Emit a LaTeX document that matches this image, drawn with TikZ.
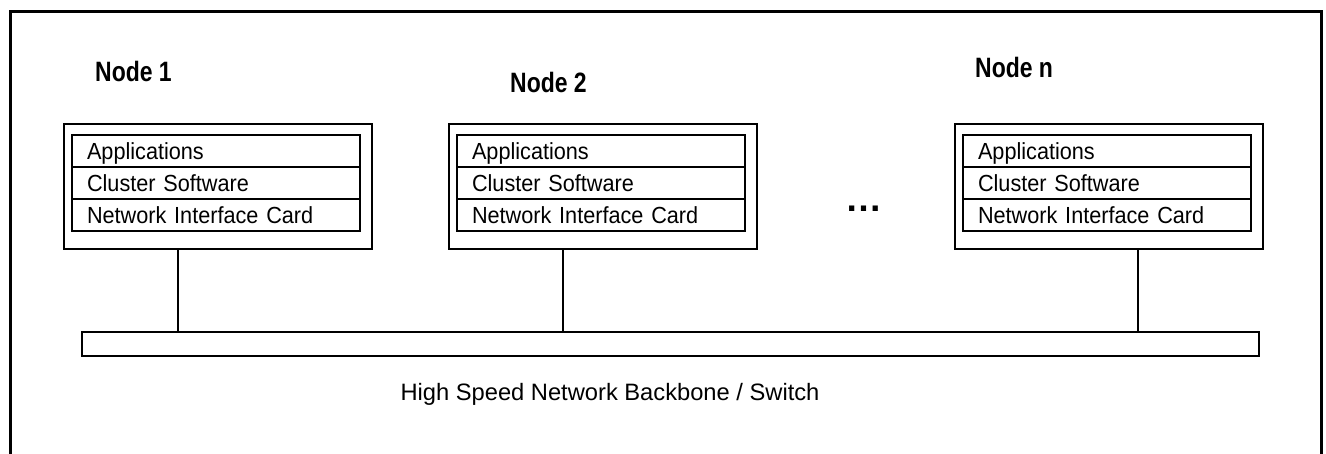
\documentclass[tikz,border=0pt]{standalone}
\usepackage{fontspec}
\setmainfont{Liberation Sans}
\newfontfamily\cellfont[FakeStretch=0.93]{Liberation Sans}
\newfontfamily\labelfont[FakeStretch=0.82]{Liberation Sans}
\begin{document}
\begin{tikzpicture}[x=1pt,y=-1pt,
  frame/.style={line width=3pt},
  hostbox/.style={draw, line width=2pt, minimum width=308pt, minimum height=125pt, inner sep=0pt},
  layer/.style={draw, line width=1.8pt, minimum height=32pt, text width=258pt,
    inner xsep=15pt, inner ysep=0pt, align=left, text height=16.7pt, text depth=0pt,
    font=\cellfont\fontsize{23.3}{26}\selectfont},
  hostlabel/.style={anchor=base west, inner sep=0pt,
    font=\labelfont\bfseries\fontsize{28}{30}\selectfont},
  link/.style={line width=1.7pt},
  busbox/.style={draw, line width=1.7pt, minimum width=1177pt, minimum height=24pt, inner sep=0pt}
]
\useasboundingbox (0,0) rectangle (1326,453);
\fill[white] (0,0) rectangle (1326,453);

% enclosing frame (open at the bottom)
\draw[frame] (10.5,455) -- (10.5,11.5) -- (1321.5,11.5) -- (1321.5,455);

% backbone
\node[busbox] (bus) at (670.5,344) {};
\node[anchor=base, inner sep=0pt, font=\fontsize{23.7}{26}\selectfont] (buslabel) at (610,400)
  {High Speed Network Backbone / Switch};

% cluster hosts: name / outer left / tap x / label x / label baseline
\foreach \id/\lx/\tx/\nx/\ny/\name in {
    1/64/178/95/81/{Node 1},
    2/449/563/510/92/{Node 2},
    n/955/1138/975/77/{Node n}} {
  \node[hostbox] (box\id) at (\lx+154,186.5) {};
  \node[layer] (app\id) at (\lx+152,151) {Applications};
  \node[layer] (cs\id)  at (\lx+152,183) {Cluster Software};
  \node[layer] (nic\id) at (\lx+152,215) {Network Interface Card};
  \node[hostlabel] (lab\id) at (\nx,\ny) {\name};
  \coordinate (tap\id) at (\tx,0);
  \draw[link] (box\id.south -| tap\id) -- (bus.north -| tap\id);
}

% more hosts in between
\node[anchor=base, inner sep=0pt, font=\bfseries\fontsize{37}{40}\selectfont] (more) at (863.5,211) {…};
\end{tikzpicture}
\end{document}
